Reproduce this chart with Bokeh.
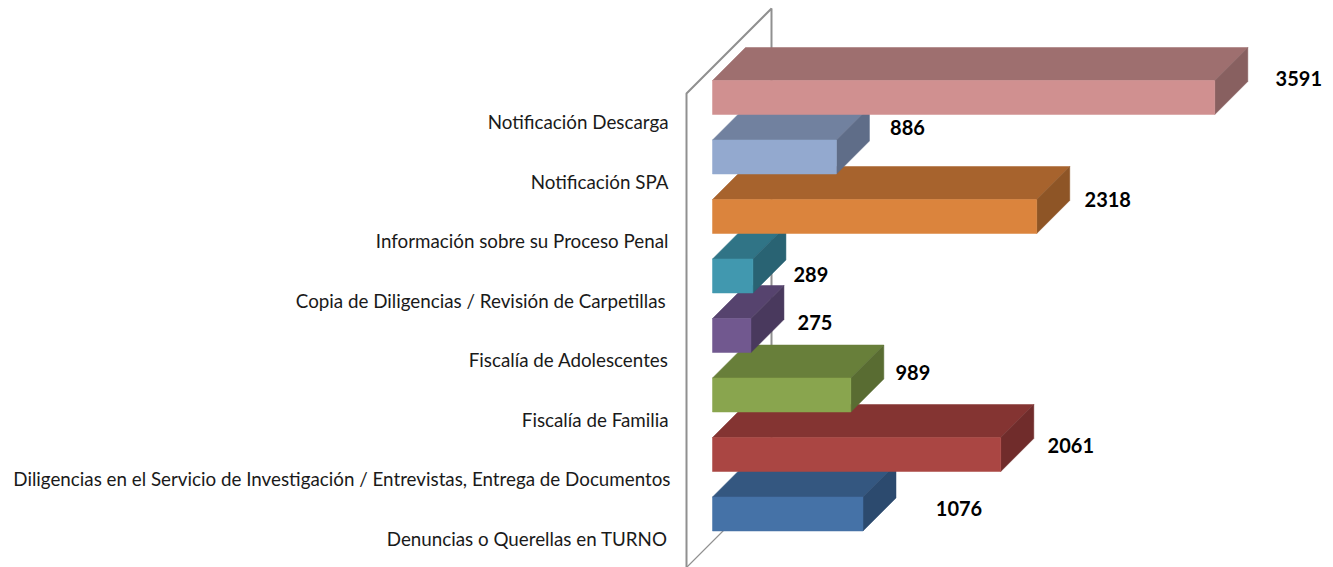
from bokeh.plotting import figure
from bokeh.embed import file_html
from bokeh.resources import INLINE
from bokeh.core.properties import value
from bokeh.models import ColumnDataSource, Range1d

# Data, top of the chart first
categories = [
    "Notificación Descarga",
    "Notificación SPA",
    "Información sobre su Proceso Penal",
    "Copia de Diligencias / Revisión de Carpetillas ",
    "Fiscalía de Adolescentes",
    "Fiscalía de Familia",
    "Diligencias en el Servicio de Investigación / Entrevistas, Entrega de Documentos",
    "Denuncias o Querellas en TURNO",
]
values = [3591, 886, 2318, 289, 275, 989, 2061, 1076]
front_colors = ["#D09090", "#93A9CF", "#DB843D", "#4198AF", "#71588F", "#89A54E", "#AA4643", "#4572A7"]
top_colors = ["#9E6F6F", "#71819F", "#A7632D", "#307486", "#56436E", "#687F3A", "#843432", "#345780"]
side_colors = ["#886060", "#5F6D88", "#8E5526", "#296373", "#49395D", "#596C32", "#702C2B", "#2C4A6E"]
label_dx = [84, 71, 71, 58, 64, 62, 70, 96]   # pixel offset of each value label from bar end
label_dy = [-19, -30, -17, -2, -13, -23, -9, -6]
cat_dx = [0, 0, 0, 2, 0, 0, 2, -1]

# Layout constants (pixels in the page)
W, H = 1333, 567
PAGE = 0
ZERO_X = 712
PX_PER_UNIT = 502.3 / 3591
STEP = 59.5
BAR_PX = 34
DEPTH_PX = 33
FIRST_CENTER = 97  # page y of the top bar's front centre

n = len(values)
x0 = -(ZERO_X - PAGE) / PX_PER_UNIT
x1 = x0 + W / PX_PER_UNIT
# y unit: category slot, 0 = top bar, growing downward
y0 = -(FIRST_CENTER - PAGE) / STEP
y1 = y0 + H / STEP

p = figure(width=W, height=H, output_backend="svg", toolbar_location=None,
           x_range=Range1d(x0, x1), y_range=Range1d(y1, y0),
           min_border=0, outline_line_color=None)
p.axis.visible = False
p.grid.visible = False

dx = DEPTH_PX / PX_PER_UNIT
dy = DEPTH_PX / STEP
h = BAR_PX / STEP / 2

# Wall frame
wl = -26 / PX_PER_UNIT
wr = 59 / PX_PER_UNIT
wall_top_left = (93 - FIRST_CENTER) / STEP
wall_top_right = (8 - FIRST_CENTER) / STEP
wall_bottom_left = (567 - FIRST_CENTER) / STEP
wall_bottom_right = (482 - FIRST_CENTER) / STEP
p.line([wl, wl, wr, wr], [wall_bottom_left, wall_top_left, wall_top_right, wall_bottom_right],
       line_color="#909090", line_width=2)
p.line([wl, wr], [wall_bottom_left, wall_bottom_right], line_color="#909090", line_width=1.2)

# Bars, bottom one first so upper bars overlap lower ones
for i in reversed(range(n)):
    v = values[i]
    p.patch([0, dx, v + dx, v], [i - h, i - h - dy, i - h - dy, i - h],
            fill_color=top_colors[i], line_color=top_colors[i], line_width=0.5)
    p.patch([v, v + dx, v + dx, v], [i - h, i - h - dy, i + h - dy, i + h],
            fill_color=side_colors[i], line_color=side_colors[i], line_width=0.5)
    p.quad(left=0, right=v, top=i - h, bottom=i + h,
           fill_color=front_colors[i], line_color=front_colors[i], line_width=0.5)

# Category labels
cat_src = ColumnDataSource(dict(
    x=[-44 / PX_PER_UNIT] * n,
    y=[i + 24 / STEP for i in range(n)],
    text=categories,
    xo=cat_dx,
))
p.text("x", "y", text="text", source=cat_src, x_offset="xo", text_align="right", text_baseline="middle",
       text_font=value("Lato"), text_font_size="18.8px", text_color="#1a1a1a")

# Value labels
val_src = ColumnDataSource(dict(
    x=values,
    y=list(range(n)),
    text=[str(v) for v in values],
    xo=label_dx,
    yo=label_dy,
))
p.text("x", "y", text="text", source=val_src, x_offset="xo", y_offset="yo",
       text_align="center", text_baseline="middle",
       text_font=value("Lato"), text_font_style="bold", text_font_size="20px", text_color="#000000")

open("out.html", "w").write(file_html(p, INLINE))
